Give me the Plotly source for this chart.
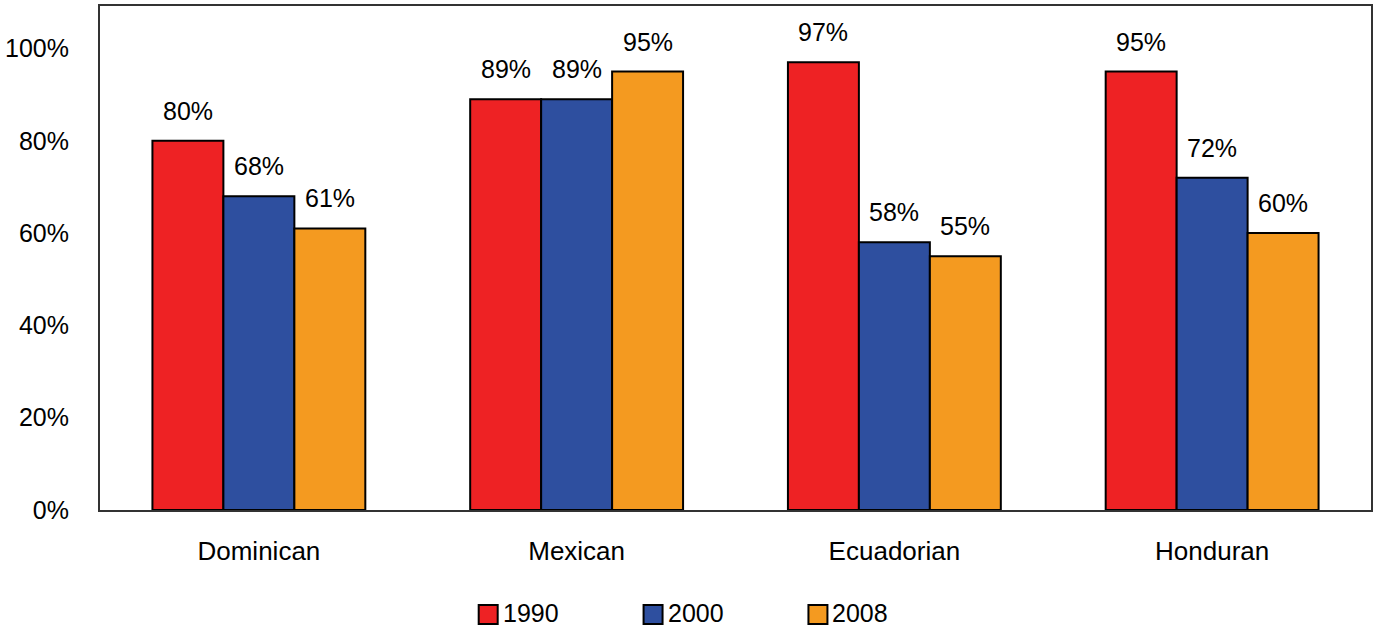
import plotly.graph_objects as go

# Share of each group, by survey year
groups = ["Dominican", "Mexican", "Ecuadorian", "Honduran"]
years = ["1990", "2000", "2008"]
share_1990 = [0.80, 0.89, 0.97, 0.95]
share_2000 = [0.68, 0.89, 0.58, 0.72]
share_2008 = [0.61, 0.95, 0.55, 0.60]
y_ticks = [0, 0.2, 0.4, 0.6, 0.8, 1.0]
y_tick_labels = ["0%", "20%", "40%", "60%", "80%", "100%"]

colors = ["#EE2224", "#2E4F9F", "#F49A20"]
series = [share_1990, share_2000, share_2008]

FONT = "Liberation Sans, Arial, sans-serif"
BARGAP = 0.33
bar_w = (1 - BARGAP) / len(years)

W, H = 1377, 629
M = dict(l=100, r=5, t=4, b=119)
plot_w = W - M["l"] - M["r"]
plot_h = H - M["t"] - M["b"]

fig = go.Figure()
for name, vals, col in zip(years, series, colors):
    fig.add_trace(go.Bar(
        x=groups, y=vals, name=name,
        marker=dict(color=col, line=dict(color="#000000", width=2)),
        hoverinfo="skip", showlegend=False,
    ))

# value labels above each bar
annotations = []
for k, vals in enumerate(series):
    offset = (k - 1) * bar_w
    for i, v in enumerate(vals):
        annotations.append(dict(
            x=i + offset, y=v, xref="x", yref="y",
            text=f"{round(v * 100):d}%", showarrow=False,
            yanchor="middle", yshift=30,
            font=dict(family=FONT, size=25, color="#000000"),
        ))

# legend row below the axis: swatch + year label
shapes = []
legend_x0 = 479      # left edge of first swatch, px
legend_step = 165    # px between entries
legend_cy = 615      # swatch vertical centre, px
sw = 19              # swatch size, px


def px_to_paper_x(px):
    return (px - M["l"]) / plot_w


def px_to_paper_y(py):
    return (H - M["b"] - py) / plot_h


for k, (name, col) in enumerate(zip(years, colors)):
    x0 = legend_x0 + k * legend_step
    shapes.append(dict(
        type="rect", xref="paper", yref="paper",
        x0=px_to_paper_x(x0), x1=px_to_paper_x(x0 + sw),
        y0=px_to_paper_y(legend_cy + sw / 2), y1=px_to_paper_y(legend_cy - sw / 2),
        fillcolor=col, line=dict(color="#000000", width=2),
    ))
    annotations.append(dict(
        x=px_to_paper_x(x0 + sw + 3), y=px_to_paper_y(legend_cy - 2),
        xref="paper", yref="paper", xanchor="left", yanchor="middle",
        text=name, showarrow=False,
        font=dict(family=FONT, size=25, color="#000000"),
    ))

fig.update_layout(
    width=W, height=H,
    margin=M,
    paper_bgcolor="white", plot_bgcolor="white",
    barmode="group", bargap=BARGAP, bargroupgap=0,
    font=dict(family=FONT, size=25, color="#000000"),
    annotations=annotations,
    shapes=shapes,
    showlegend=False,
)
fig.update_xaxes(
    showgrid=False, ticks="", showline=True, linecolor="#333333", linewidth=2,
    mirror=True, ticklabelstandoff=17,
    tickfont=dict(family=FONT, size=26, color="#000000"),
)
fig.update_yaxes(
    range=[0, 1.092], tickvals=y_ticks, ticktext=y_tick_labels,
    showgrid=False, zeroline=False, ticks="", showline=True,
    linecolor="#333333", linewidth=2, mirror=True, ticklabelstandoff=24,
    tickfont=dict(family=FONT, size=25, color="#000000"),
)

fig.write_html("out.html")
